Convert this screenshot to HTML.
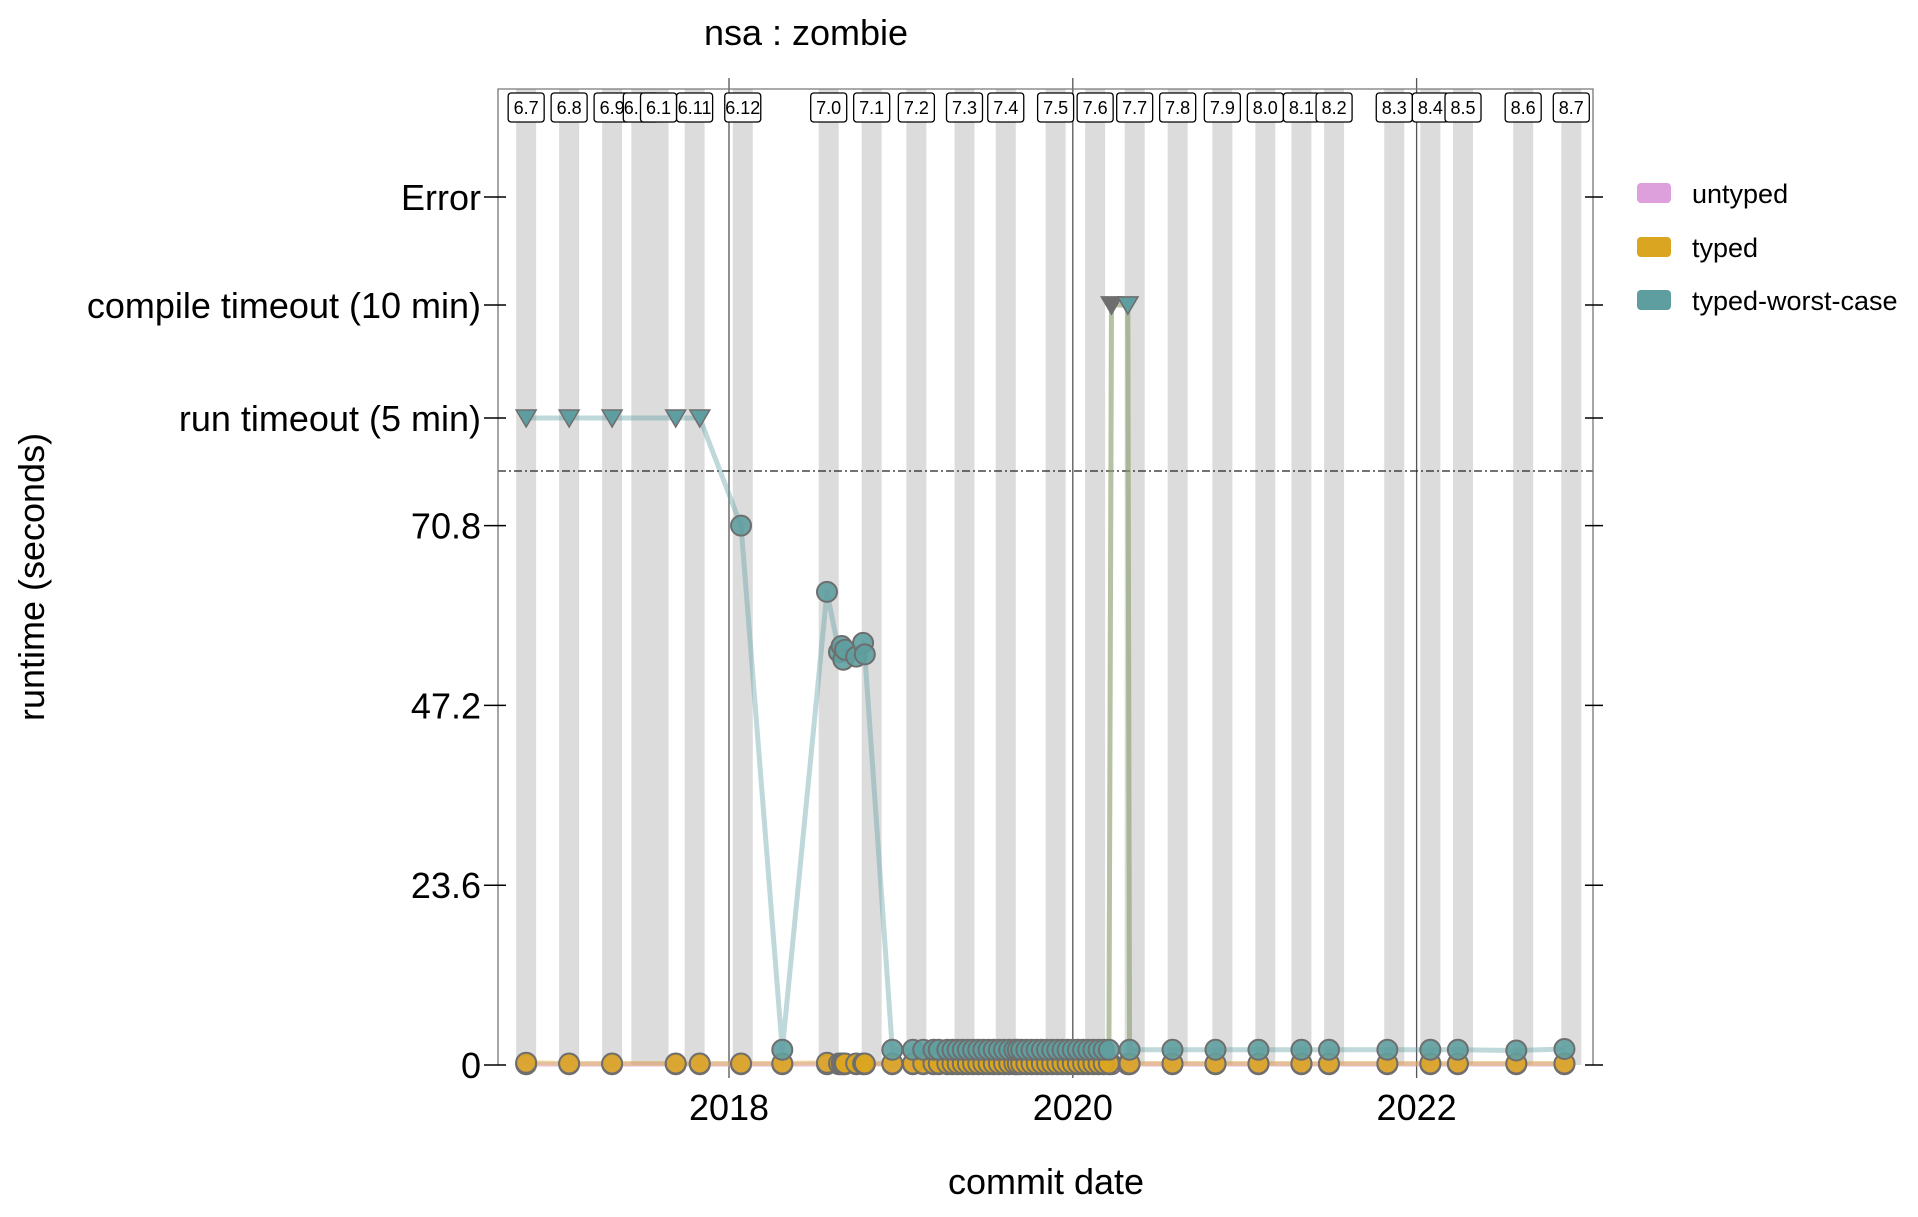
<!DOCTYPE html>
<html><head><meta charset="utf-8"><style>
html,body{margin:0;padding:0;background:#fff;}
svg text{font-family:"Liberation Sans",sans-serif;}
</style></head><body>
<svg id="chart" width="1918" height="1212" viewBox="0 0 1918 1212" xmlns="http://www.w3.org/2000/svg">
<text x="806" y="45" font-size="36" text-anchor="middle">nsa : zombie</text>
<text transform="translate(44,577) rotate(-90)" font-size="36" text-anchor="middle">runtime (seconds)</text>
<text x="1046" y="1194" font-size="36" text-anchor="middle">commit date</text>
<g id="bands"></g><g id="grid"></g><g id="lines"></g><g id="points"></g><g id="vlabels"></g><g id="axes"></g>
<g>
<rect x="1637" y="183" width="34" height="20" rx="4" fill="#DDA0DD"/>
<text x="1692" y="203" font-size="27">untyped</text>
<rect x="1637" y="237" width="34" height="20" rx="4" fill="#DAA520"/>
<text x="1692" y="257" font-size="27">typed</text>
<rect x="1637" y="290" width="34" height="20" rx="4" fill="#5F9EA0"/>
<text x="1692" y="310" font-size="27">typed-worst-case</text>
</g>
</svg>
<script>
const versionNames=["6.7","6.8","6.9","6.10","6.1","6.11","6.12","7.0","7.1","7.2","7.3","7.4","7.5","7.6","7.7","7.8","7.9","8.0","8.1","8.2","8.3","8.4","8.5","8.6","8.7"];
const versionDates=[2016.82,2017.07,2017.32,2017.49,2017.59,2017.80,2018.08,2018.58,2018.83,2019.09,2019.37,2019.61,2019.90,2020.13,2020.36,2020.61,2020.87,2021.12,2021.33,2021.52,2021.87,2022.08,2022.27,2022.62,2022.90];
const yearTicks=[2018,2020,2022];
const yTickLabels=["0","23.6","47.2","70.8"];
const yTickValues=[0,23.6,47.2,70.8];
const specialLabels=["run timeout (5 min)","compile timeout (10 min)","Error"];
const specialCodes=["RT","CT","ERR"];
const dates=[2016.82,2017.07,2017.32,2017.69,2017.83,2018.07,2018.31,2018.57,2018.64,2018.655,2018.665,2018.675,2018.74,2018.78,2018.79,
2018.95,2019.07,2019.13,2019.19,2019.22,2019.27,2019.30,2019.33,2019.36,2019.39,2019.42,2019.45,2019.48,2019.51,2019.54,2019.57,2019.60,2019.63,2019.66,2019.68,2019.70,2019.73,2019.76,2019.79,2019.82,2019.85,2019.88,2019.91,2019.94,2019.97,2020.00,2020.03,2020.06,2020.09,2020.12,2020.15,2020.18,2020.21,
2020.225,2020.32,2020.33,2020.58,2020.83,2021.08,2021.33,2021.49,2021.83,2022.08,2022.24,2022.58,2022.86];
const worstValues=["RT","RT","RT","RT","RT",70.8,2.0,62.1,54.2,55.0,53.2,54.5,53.6,55.4,53.9,
2.0,2.0,2.0,2.0,2.0,2.0,2.0,2.0,2.0,2.0,2.0,2.0,2.0,2.0,2.0,2.0,2.0,2.0,2.0,2.0,2.0,2.0,2.0,2.0,2.0,2.0,2.0,2.0,2.0,2.0,2.0,2.0,2.0,2.0,2.0,2.0,2.0,2.0,
"CT","CT",2.0,2.0,2.0,2.0,2.0,2.0,2.0,2.0,2.0,1.9,2.1];
const typedValues=[0.3,0.2,0.2,0.2,0.2,0.2,0.2,0.3,0.2,0.2,0.2,0.2,0.2,0.2,0.2,
0.2,0.2,0.2,0.2,0.2,0.2,0.2,0.2,0.2,0.2,0.2,0.2,0.2,0.2,0.2,0.2,0.2,0.2,0.2,0.2,0.2,0.2,0.2,0.2,0.2,0.2,0.2,0.2,0.2,0.2,0.2,0.2,0.2,0.2,0.2,0.2,0.2,0.2,
"CT","CT",0.2,0.2,0.2,0.2,0.2,0.2,0.2,0.2,0.2,0.2,0.2];
const untypedValues=dates.map(()=>0.1);

const NS="http://www.w3.org/2000/svg";
const L=498,R=1593,T=89,Y0=1065;
function x(yr){return 729+(yr-2018)*171.9;}
function y(v){if(v==="RT")return 418;if(v==="CT")return 305;if(v==="ERR")return 197;return Y0-v*(179.8/23.6);}
function mk(tag,parent,attrs){const e=document.createElementNS(NS,tag);for(const k in attrs)e.setAttribute(k,attrs[k]);document.getElementById(parent).appendChild(e);return e;}

versionDates.forEach((d,i)=>{
 const b=mk('rect','bands',{x:x(d)-10,y:T,width:20,height:Y0-T,fill:'#dcdcdc'});
 
 
});
yearTicks.forEach(yr=>{
 const l=mk('line','grid',{x1:x(yr),x2:x(yr),y1:78,y2:1078,stroke:'#555',"stroke-width":1.3});
 
 
 const t=mk('text','axes',{x:x(yr),y:1120,"font-size":36,"text-anchor":"middle"});
 t.textContent=String(yr);
 
 
});
const dl=mk('line','grid',{x1:L,x2:R,y1:471,y2:471,stroke:'#222',"stroke-width":1.3,"stroke-dasharray":"8 3 2 3"});



function drawLine(vals,color,w,op,name){
 let pts=dates.map((d,i)=>x(d)+','+y(vals[i])).join(' ');
 const p=mk('polyline','lines',{points:pts,fill:'none',stroke:color,"stroke-width":w,"stroke-opacity":op,"stroke-linejoin":"round"});
 
 
}
drawLine(untypedValues,'#DDA0DD',5,0.5,'untyped-line');
drawLine(typedValues,'#DAA520',5,0.4,'typed-line');
drawLine(worstValues,'#5F9EA0',5,0.4,'typed-worst-case-line');

function drawPts(vals,color,name){
 dates.forEach((d,i)=>{
  const v=vals[i];const cx=x(d),cy=y(v);let e;
  if(typeof v==="string"){
   e=mk('polygon','points',{points:`${cx-10},${cy-8} ${cx+10},${cy-8} ${cx},${cy+9}`,fill:(v==="CT"&&i===dates.length-12&&name!=='typed-point')?'#5F9EA0':(v==="CT"?'#6e6e6e':color),stroke:'#6e6e6e',"stroke-width":1.5});
  } else {
   e=mk('circle','points',{cx:cx,cy:cy,r:10,fill:color,"fill-opacity":0.9,stroke:'#6e6e6e',"stroke-width":2});
  }
  
  
 });
}
drawPts(untypedValues,'#DDA0DD','untyped-point');
drawPts(typedValues,'#DAA520','typed-point');
drawPts(worstValues,'#5F9EA0','typed-worst-case-point');

versionDates.forEach((d,i)=>{
 const cx=x(d);
 const r=mk('rect','vlabels',{x:cx-18,y:93,width:36,height:29,rx:3,fill:'#fff',stroke:'#000',"stroke-width":1.3});
 
 
 const t=mk('text','vlabels',{x:cx,y:114,"font-size":18,"text-anchor":"middle"});
 t.textContent=versionNames[i];
 
 
});

const border=mk('path','axes',{d:`M${L},${Y0} V${T} H${R} V${Y0}`,fill:'none',stroke:'#777',"stroke-width":1.3});


function ytick(py,label,name){
 const a=mk('line','axes',{x1:484,x2:506,y1:py,y2:py,stroke:'#000',"stroke-width":1.5});
 
 
 const b=mk('line','axes',{x1:1585,x2:1603,y1:py,y2:py,stroke:'#000',"stroke-width":1.5});
 
 
 const t=mk('text','axes',{x:481,y:py+13,"font-size":36,"text-anchor":"end"});
 t.textContent=label;
 
 
}
yTickValues.forEach((v,i)=>ytick(y(v),yTickLabels[i],'y-tick-label'));
specialCodes.forEach((c,i)=>ytick(y(c),specialLabels[i],'y-special-label'));
</script>
</body></html>
